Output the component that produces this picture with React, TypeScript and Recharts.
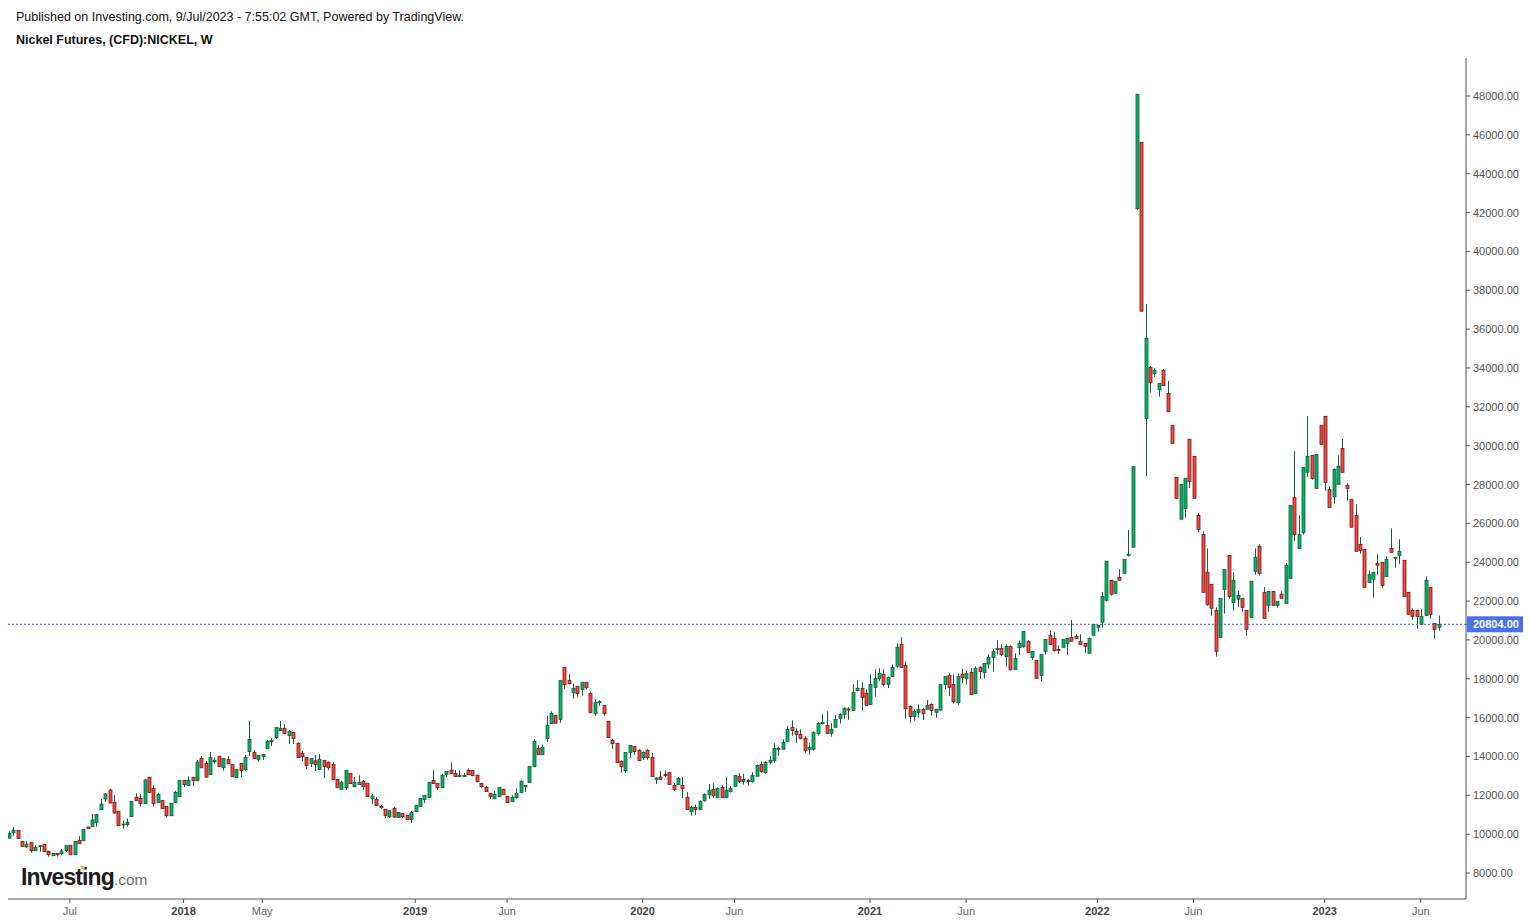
import React from "react";
import { ComposedChart, Bar, XAxis, YAxis, ReferenceLine } from "recharts";

const opens = [
  9790,10080,10200,9630,9340,9580,9150,9390,9480,9120,
  8890,9010,9000,9150,9420,8940,9680,9660,10370,10390,
  10590,11260,11810,12270,11640,11180,10510,10490,10900,11900,
  11840,11570,12930,12360,11620,11740,11430,10950,11620,11930,
  12770,12500,12930,12750,13900,13650,13060,13730,14010,13420,
  13850,13590,12910,13650,13320,14250,14210,13830,13990,14400,
  14760,14970,15330,15450,15070,15240,14680,14160,13950,13630,
  13780,13320,13800,13700,13590,12810,12290,12390,13130,12440,
  12550,12720,12620,11830,11790,11430,11280,10900,11330,10850,
  11070,10970,10750,11160,11420,11780,11880,12770,12620,12390,
  13060,13290,13130,12960,12960,13290,13290,13030,12620,12410,
  12100,11830,11930,12310,11950,11670,11880,12140,12440,12650,
  13470,14420,14090,14920,15690,16120,15910,18590,17920,17280,
  17610,17440,17820,17250,16200,16790,16630,15810,14830,14680,
  13750,13270,14200,14520,14320,13940,14320,13950,12820,12940,
  13080,13180,12510,12550,12510,11900,11160,11380,11260,11720,
  12030,12310,11880,12410,11880,12190,12460,12980,12720,12770,
  12700,12980,13590,13170,13700,13800,14370,14370,14780,15500,
  15290,15140,14930,14370,14370,15170,15690,15600,15190,15500,
  15960,16170,16440,16370,17390,17510,17250,16670,17560,18020,
  18230,17710,18120,18640,19770,18690,16580,16050,16270,16430,
  16430,16680,16270,16390,17710,18180,17710,16770,18230,18000,
  18330,17230,18590,18310,18760,19100,19500,19570,19140,19670,
  18470,19600,19650,19930,19090,18950,18160,19410,20240,20080,
  19510,19620,19820,20130,20180,19930,19820,19310,20240,20650,
  20910,22040,23070,22400,23220,23430,24350,24770,42200,45620,
  31390,34030,33710,32880,33880,32690,31050,28370,26210,26770,
  30330,29450,26410,25430,23480,22860,21520,20130,22600,24350,
  21930,22090,22140,21520,21160,23530,24820,22450,21780,22500,
  21780,22350,21880,23170,27340,24710,25520,28630,29500,27800,
  31050,31510,27750,27370,28010,29860,27960,27240,26410,24920,
  24660,22960,23120,23940,23990,23270,24710,24200,24350,24100,
  22450,21520,21520,20800,21260,22710,20840,20650,
];

const closes = [
  10040,10210,9770,9360,9490,9150,9320,9410,9100,8940,
  9010,8940,9130,9420,8940,9630,9510,10250,10280,10730,
  11020,11550,12070,11600,11090,10440,10520,10610,11690,11720,
  11570,12790,12140,11570,12050,11310,10950,11590,12150,12770,
  12550,12770,12750,13710,13420,12940,13950,13800,13470,13900,
  13630,12960,13340,13270,13950,14880,13890,14060,14110,14780,
  14830,15500,15450,15170,15290,14920,13940,13990,13530,13900,
  13580,13850,13470,13420,12810,12390,12670,13290,12600,12670,
  12670,12440,11930,11960,11470,11360,10950,11210,10880,11120,
  10900,10750,11120,11480,11840,12000,12670,12600,12390,13030,
  13230,13110,12960,13030,13030,13060,13010,12700,12440,12190,
  11930,12050,12410,12030,11620,11900,12100,12720,12510,13490,
  14780,14090,14470,15600,16220,15710,17920,17700,17750,17510,
  17230,17820,17540,16250,16790,16820,16200,14970,14660,13680,
  13470,14210,14570,14250,13780,14210,13940,12960,12890,12810,
  13010,12550,12290,12870,12340,11260,11380,11260,11690,12050,
  12260,11980,12360,11880,12260,12360,13030,12720,12820,12720,
  13030,13540,13220,13700,13800,14420,14420,14730,15400,15340,
  15140,14930,14310,14470,15240,15700,15760,15190,15400,15910,
  16170,16480,16410,17300,17510,17030,16630,17710,18020,18280,
  17710,18070,18590,19620,18590,16460,16050,16320,16430,16200,
  16630,16360,16430,17710,18120,17560,16820,18120,18060,18280,
  17180,18540,18380,18790,19100,19410,19570,19240,19670,18470,
  19050,19820,20440,19360,19410,18020,19260,20030,19770,19450,
  19460,20030,20080,19930,20080,19770,19670,20080,20800,20750,
  22240,24050,22350,23020,23070,24150,24410,28920,48090,36920,
  35530,33240,33880,33210,33090,31750,30120,27290,28010,28320,
  28160,27290,25690,22450,21810,21630,19410,22140,23630,22240,
  23070,22290,21680,20540,23020,24250,23430,21110,22500,21780,
  21990,22140,23840,26930,25420,25430,28880,29450,28300,29550,
  30070,28110,26820,28780,28940,28630,27800,25800,24560,24610,
  22710,23380,23480,23840,22810,24150,24510,24250,24560,22240,
  21320,21210,21210,21210,23070,21320,20540,20804,
];

const highs = [
  10160,10370,10200,9630,9650,9580,9420,9440,9480,9150,
  9010,9010,9240,9420,9420,9630,9900,10250,10370,11040,
  11020,11810,12120,12320,12000,11180,10690,10810,11690,12100,
  12070,12820,12930,12530,12120,11740,11430,11590,12220,12770,
  12770,12980,12930,13820,14020,13770,14230,13950,14010,13900,
  14020,13590,13340,13650,14080,15830,14320,14060,14110,14850,
  14950,15500,15830,15670,15360,15240,14740,14280,13950,13900,
  14080,14130,13800,13750,13710,12810,12740,13290,13130,12940,
  13030,12790,12620,12070,11910,11500,11280,11210,11400,11120,
  11070,10970,11190,11480,11840,12000,12670,13290,12620,13100,
  13230,13700,13290,13290,13150,13390,13290,13080,12620,12480,
  12100,12220,12410,12310,11950,12000,12360,12770,12510,13490,
  14880,14570,14620,16080,16320,16120,17920,18590,18240,17760,
  17610,17820,17820,17350,16940,16890,16630,15810,14900,14680,
  13800,14210,14570,14520,14370,14260,14380,14180,12940,13250,
  13290,13180,12620,12940,12940,12170,11450,11530,11740,12100,
  12580,12620,12410,12510,12940,12480,13030,13150,13100,12840,
  13180,13590,13750,13750,14020,14680,14490,14880,15550,15860,
  15450,15400,15040,14680,15290,15760,16170,16320,15700,16120,
  16220,16530,16530,17710,17920,17820,17460,18230,18480,18540,
  18480,18120,18740,19820,20130,18900,16630,16430,16680,16490,
  16910,16730,16430,17710,18120,18280,18230,18280,18490,18430,
  18540,18640,18640,18790,19260,19520,19980,19770,19770,19720,
  19310,19980,20440,19980,19410,18950,19260,20030,20490,20390,
  19720,20030,20080,21020,20290,20290,19820,20130,20800,20750,
  22470,24050,23070,23020,23650,24150,25660,28920,48090,45620,
  37290,34100,34000,33210,33950,33330,31050,28370,28010,28320,
  30330,29450,26520,25590,24710,22860,21680,22140,23630,24350,
  23480,22550,22140,21520,23020,24710,24920,22710,22500,22500,
  21990,22500,23940,26930,29710,26410,28880,31530,29500,29550,
  31050,31510,27910,28830,29500,30340,28060,27240,26980,25300,
  24660,23580,23480,24410,23990,24300,25740,24250,25180,24100,
  22450,21630,21570,21570,23270,22710,20840,21260,
];

const lows = [
  9770,9920,9770,9360,9300,9050,9150,9100,9100,8840,
  8890,8840,8910,9080,8940,8940,9510,9660,10280,10370,
  10390,11260,11660,11590,11050,10440,10280,10390,10900,11720,
  11420,11570,12140,11420,11620,11310,10850,10950,11620,11930,
  12430,12500,12480,12750,13420,12890,13060,13630,13470,13270,
  13630,12960,12910,12940,13270,14040,13890,13730,13820,14400,
  14540,14900,15330,15170,14640,14640,13940,13770,13350,13460,
  13250,13320,12890,13300,12810,12390,12290,12270,12600,12440,
  12550,12270,11930,11550,11470,11300,10830,10830,10830,10850,
  10830,10750,10570,11160,11420,11600,11880,12600,12270,12390,
  12940,13110,12960,12960,12960,13060,13010,12700,12390,12190,
  11810,11830,11930,12030,11620,11670,11830,12140,12170,12650,
  13470,14090,14090,14740,15690,15710,15740,17490,17700,16970,
  17080,17130,17440,16250,16100,16610,16100,14970,14400,13680,
  13170,13170,13940,14090,13780,13820,13830,12960,12580,12810,
  12940,12550,12220,12550,11860,11260,10950,10990,11260,11670,
  11830,11880,11880,11880,11880,12140,12460,12620,12550,12500,
  12650,12980,13170,13110,13590,13680,14040,14370,14780,15070,
  14710,14880,14190,14090,14300,15070,15640,15190,15020,15500,
  15690,15950,15890,16370,17340,16360,16630,16670,17080,17870,
  17610,17520,18120,18570,18590,15950,15740,15840,16000,15890,
  16430,16100,16000,16360,17470,17110,16720,16660,17780,17700,
  17180,17230,17990,18020,18520,18370,19260,19170,18620,18420,
  18470,19220,19600,19360,18970,18020,17850,19240,19770,19390,
  19270,19620,19220,19930,20080,19770,19330,19310,20240,20420,
  20630,21970,22280,22400,23070,23430,24290,24770,42130,36920,
  28440,32730,33550,32520,33090,31750,30120,27290,26210,26290,
  27820,27290,25540,22450,21760,21250,19140,20130,21350,22120,
  21500,21710,21450,20220,21160,23360,23310,21110,21450,21780,
  21660,22140,21880,23170,25110,24710,25420,28400,28250,27800,
  30070,27670,26820,27010,28010,28630,27170,25800,24560,24440,
  22710,22960,22170,23360,22690,23270,24510,23720,23920,22240,
  21320,21040,20580,20800,21260,21090,20060,20480,
];

const priceTicks = [
  8000,10000,12000,14000,16000,18000,20000,22000,24000,26000,28000,
  30000,32000,34000,36000,38000,40000,42000,44000,46000,48000,
];
const lastPrice = 20804;

const timeTickIndex = [14,40,58,93,114,145,166,197,219,249,271,301,323];
const timeTickLabels = ["Jul","2018","May","2019","Jun","2020","Jun","2021","Jun","2022","Jun","2023","Jun"];

const titleLine = "Published on Investing.com, 9/Jul/2023 - 7:55:02 GMT, Powered by TradingView.";
const subtitleLine = "Nickel Futures, (CFD):NICKEL, W";

const FONT = '"Liberation Sans", Arial, sans-serif';
const GREEN_FILL = "#00b368";
const GREEN_EDGE = "#1a5c3c";
const RED_FILL = "#f4473f";
const RED_EDGE = "#6f1d1d";
const WICK = "#1a5c3c";
const AXIS = "#555555";
const LAST_BLUE = "#4a72e8";

const rows = opens.map((o, i) => ({
  index: i,
  open: o,
  close: closes[i],
  high: highs[i],
  low: lows[i],
  range: [lows[i], highs[i]],
}));

function Candle(props: any) {
  const { x, y, width, height, payload } = props;
  if (!payload || height == null) return null;
  const span = payload.high - payload.low || 1;
  const perUnit = height / span;
  const cx = Math.round(x + width / 2) + 0.5;
  const top = Math.max(payload.open, payload.close);
  const bottom = Math.min(payload.open, payload.close);
  const bodyTop = y + (payload.high - top) * perUnit;
  const bodyHeight = Math.max((top - bottom) * perUnit, 1);
  const up = payload.close >= payload.open;
  return (
    <g>
      <line x1={cx} x2={cx} y1={y} y2={y + height} stroke={WICK} strokeWidth={1} />
      <rect
        x={cx - 1.5}
        y={bodyTop}
        width={3}
        height={bodyHeight}
        fill={up ? GREEN_FILL : RED_FILL}
        stroke={up ? GREEN_EDGE : RED_EDGE}
        strokeWidth={0.8}
      />
    </g>
  );
}

function PriceTick(props: any) {
  const { x, y, payload } = props;
  if (payload.value === lastPrice) {
    return (
      <g>
        <rect x={1467} y={y - 8} width={56} height={16} fill={LAST_BLUE} />
        <text x={1473} y={y + 4} fontFamily={FONT} fontSize={11} fontWeight={700} fill="#ffffff">
          {lastPrice.toFixed(2)}
        </text>
      </g>
    );
  }
  return (
    <text x={1473} y={y + 4} fontFamily={FONT} fontSize={11} fill="#555555">
      {Number(payload.value).toFixed(2)}
    </text>
  );
}

function TimeTick(props: any) {
  const { x, payload } = props;
  const label = timeTickLabels[timeTickIndex.indexOf(payload.value)];
  const isYear = /^\d+$/.test(label ?? "");
  return (
    <text
      x={x}
      y={915}
      textAnchor="middle"
      fontFamily={FONT}
      fontSize={11}
      fontWeight={isYear ? 700 : 400}
      fill={isYear ? "#444444" : "#666666"}
    >
      {label}
    </text>
  );
}

export default function App() {
  return (
    <div style={{ position: "absolute", left: 0, top: 0, width: 1530, height: 924, background: "#fff", overflow: "hidden" }}>
      <div style={{ position: "absolute", left: 16, top: 10, fontFamily: FONT, fontSize: 12.5, color: "#111", whiteSpace: "nowrap" }}>
        {titleLine}
      </div>
      <div style={{ position: "absolute", left: 16, top: 33, fontFamily: FONT, fontSize: 12.5, fontWeight: 700, color: "#111", whiteSpace: "nowrap" }}>
        {subtitleLine}
      </div>
      <ComposedChart
        width={1530}
        height={924}
        data={rows}
        margin={{ top: 58, right: 0, bottom: 0, left: 8 }}
      >
        <XAxis
          dataKey="index"
          type="number"
          domain={[-0.153, 333.33]}
          allowDataOverflow
          ticks={timeTickIndex}
          interval={0}
          height={25}
          tickSize={4}
          stroke={AXIS}
          tick={<TimeTick />}
        />
        <YAxis
          orientation="right"
          type="number"
          domain={[6662, 49956]}
          allowDataOverflow
          ticks={[...priceTicks, lastPrice]}
          interval={0}
          width={64}
          tickSize={4}
          stroke={AXIS}
          tick={<PriceTick />}
        />
        <ReferenceLine y={lastPrice} stroke="#3a5fcf" strokeDasharray="2 2" strokeWidth={1} />
        <Bar dataKey="range" barSize={3} isAnimationActive={false} shape={<Candle />} />
      </ComposedChart>
      <div style={{ position: "absolute", left: 21, top: 862, fontFamily: FONT, whiteSpace: "nowrap", color: "#1c1c1c", lineHeight: "30px" }}>
        <span style={{ fontSize: 23, fontWeight: 700, letterSpacing: -0.9 }}>Investing</span>
        <span style={{ fontSize: 15.5, color: "#6d6d6d" }}>.com</span>
      </div>
      <div style={{ position: "absolute", left: 81, top: 866, width: 4, height: 3, borderRadius: 2, background: "#f5a623" }} />
    </div>
  );
}
